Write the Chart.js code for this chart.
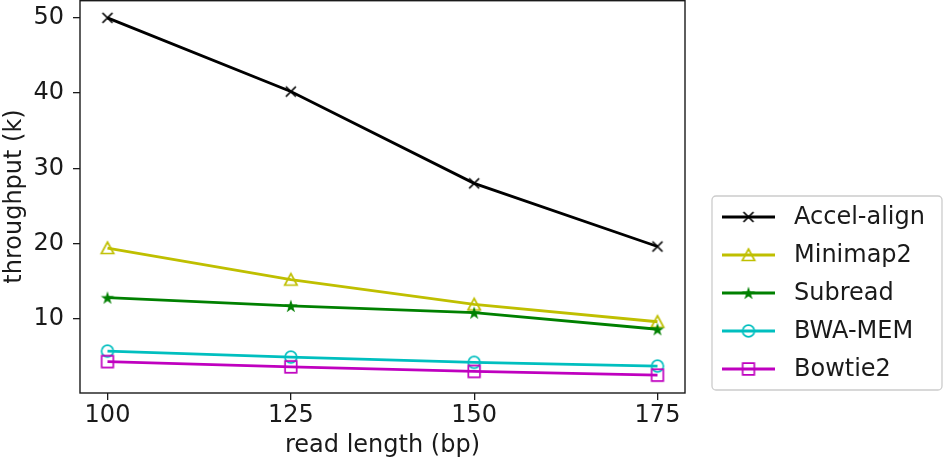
<!DOCTYPE html>
<html>
<head>
<meta charset="utf-8">
<script src="https://cdn.jsdelivr.net/npm/chart.js@4/dist/chart.umd.min.js"></script>
<style>
html, body { margin: 0; padding: 0; background: #fff; }
#wrap { width: 944px; height: 463px; }
</style>
</head>
<body>
<div id="wrap"><canvas id="chart"></canvas></div>
<script>
// values
const readLengths = [100, 125, 150, 175];
const accelAlign = [50.0, 40.2, 28.0, 19.6];
const minimap2 = [19.4, 15.2, 11.9, 9.6];
const subread = [12.8, 11.7, 10.8, 8.6];
const bwaMem = [5.7, 4.9, 4.2, 3.7];
const bowtie2 = [4.3, 3.6, 3.0, 2.5];

const xTicks = [100, 125, 150, 175];
const yTicks = [10, 20, 30, 40, 50];

const seriesNames = ['Accel-align', 'Minimap2', 'Subread', 'BWA-MEM', 'Bowtie2'];
const seriesValues = [accelAlign, minimap2, subread, bwaMem, bowtie2];
const seriesColors = ['#000000', '#bfbf00', '#008000', '#00bfbf', '#bf00bf'];
const seriesMarkers = ['x', 'triangle', 'star', 'circle', 'square'];

// matplotlib-like markers drawn on a small canvas
const makeMarker = (kind, color) => {
    const size = 20;
    const c = document.createElement('canvas');
    c.width = size;
    c.height = size;
    const g = c.getContext('2d');
    const m = size / 2;
    g.strokeStyle = color;
    g.fillStyle = color;
    g.lineWidth = 1.7;
    g.beginPath();
    switch (kind) {
        case 'x':
            g.moveTo(m - 5, m - 5); g.lineTo(m + 5, m + 5);
            g.moveTo(m + 5, m - 5); g.lineTo(m - 5, m + 5);
            g.stroke();
            break;
        case 'triangle':
            g.moveTo(m, m - 6); g.lineTo(m + 6.2, m + 5.5); g.lineTo(m - 6.2, m + 5.5);
            g.closePath();
            g.stroke();
            break;
        case 'star': {
            const ro = 7, ri = ro * 0.382;
            for (let i = 0; i < 10; i++) {
                const r = i % 2 === 0 ? ro : ri;
                const a = -Math.PI / 2 + i * Math.PI / 5;
                const px = m + r * Math.cos(a), py = m + 0.6 + r * Math.sin(a);
                if (i === 0) g.moveTo(px, py); else g.lineTo(px, py);
            }
            g.closePath();
            g.fill();
            break;
        }
        case 'circle':
            g.arc(m, m, 5.9, 0, Math.PI * 2);
            g.stroke();
            break;
        case 'square':
            g.rect(m - 5.8, m - 5.8, 11.6, 11.6);
            g.stroke();
            break;
    }
    return c;
};

const markerImages = seriesMarkers.map((k, i) => makeMarker(k, seriesColors[i]));

const datasets = seriesNames.map((name, i) => ({
    label: name,
    data: readLengths.map((x, j) => ({ x: x, y: seriesValues[i][j] })),
    borderColor: seriesColors[i],
    backgroundColor: seriesColors[i],
    borderWidth: 2.8,
    pointStyle: markerImages[i],
    pointRadius: 6,
    tension: 0,
    fill: false,
    order: seriesNames.length - i
}));

// axes frame + legend box like matplotlib
const frameAndLegend = {
    id: 'frameAndLegend',
    afterDraw(chart) {
        const ctx = chart.ctx;
        const area = chart.chartArea;
        ctx.save();
        ctx.strokeStyle = '#1a1a1a';
        ctx.lineWidth = 1.4;
        ctx.strokeRect(area.left, area.top + 0.7, area.right - area.left, area.bottom - area.top - 0.7);

        // legend
        const boxLeft = area.right + 27;
        const boxTop = 196;
        const boxW = 230;
        const boxH = 194;
        ctx.strokeStyle = '#cccccc';
        ctx.lineWidth = 1.3;
        ctx.fillStyle = 'rgba(255,255,255,0.8)';
        ctx.beginPath();
        ctx.roundRect(boxLeft, boxTop, boxW, boxH, 4);
        ctx.fill();
        ctx.stroke();

        ctx.font = '24px "DejaVu Sans"';
        ctx.textBaseline = 'middle';
        ctx.textAlign = 'left';
        seriesNames.forEach((name, i) => {
            const y = boxTop + 21 + i * 38;
            const x0 = boxLeft + 10;
            ctx.strokeStyle = seriesColors[i];
            ctx.lineWidth = 2.8;
            ctx.beginPath();
            ctx.moveTo(x0, y);
            ctx.lineTo(x0 + 53, y);
            ctx.stroke();
            const img = markerImages[i];
            ctx.drawImage(img, x0 + 26.5 - img.width / 2, y - img.height / 2);
            ctx.fillStyle = '#1a1a1a';
            ctx.fillText(name, x0 + 72, y + 1);
        });
        ctx.restore();
    }
};

Chart.defaults.font.family = '"DejaVu Sans", sans-serif';
Chart.defaults.font.size = 24;
Chart.defaults.color = '#1a1a1a';

new Chart(document.getElementById('chart').getContext('2d'), {
    type: 'line',
    data: { datasets: datasets },
    options: {
        responsive: true,
        maintainAspectRatio: false,
        animation: false,
        layout: { autoPadding: false, padding: { top: 0, right: 259, bottom: 0, left: 0 } },
        plugins: {
            legend: { display: false },
            tooltip: { enabled: false }
        },
        scales: {
            x: {
                type: 'linear',
                min: 96.25,
                max: 178.75,
                afterBuildTicks: scale => { scale.ticks = xTicks.map(v => ({ value: v })); },
                afterFit: scale => {
                    scale.height = 70;
                    scale.paddingLeft = 0;
                    scale.paddingRight = 0;
                },
                border: { display: false },
                grid: { drawOnChartArea: false, drawTicks: true, tickLength: 7, color: '#1a1a1a', lineWidth: 1.3 },
                ticks: { padding: 1, maxRotation: 0, autoSkip: false },
                title: { display: true, text: 'read length (bp)', padding: { top: 0, bottom: 3 } }
            },
            y: {
                type: 'linear',
                min: 0.125,
                max: 52.375,
                afterBuildTicks: scale => { scale.ticks = yTicks.map(v => ({ value: v })); },
                afterFit: scale => {
                    scale.width = 80;
                    scale.paddingTop = 0;
                    scale.paddingBottom = 0;
                },
                border: { display: false },
                grid: { drawOnChartArea: false, drawTicks: true, tickLength: 7, color: '#1a1a1a', lineWidth: 1.3 },
                ticks: { padding: 9, autoSkip: false },
                title: { display: true, text: 'throughput (k)', padding: { top: 0, bottom: 0 } }
            }
        }
    },
    plugins: [frameAndLegend]
});
</script>
</body>
</html>
